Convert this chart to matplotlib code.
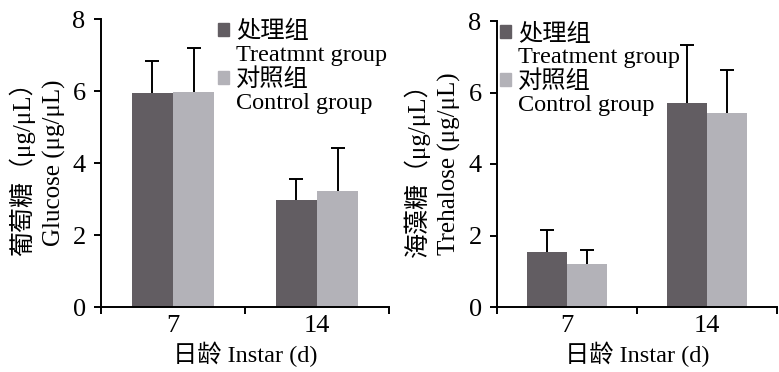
import matplotlib
matplotlib.use("Agg")
import matplotlib.pyplot as plt
import numpy as np
from matplotlib.patches import Patch

plt.rcParams['font.family'] = ['Liberation Serif', 'Noto Sans CJK SC']

# data
ages = ['7', '14']
glucose_trt = [5.95, 2.97]
glucose_trt_err = [0.89, 0.59]
glucose_ctl = [5.97, 3.22]
glucose_ctl_err = [1.23, 1.19]
treha_trt = [1.54, 5.72]
treha_trt_err = [0.61, 1.62]
treha_ctl = [1.21, 5.44]
treha_ctl_err = [0.39, 1.18]

dark = '#625d62'
light = '#b3b2b8'
fs = 19

fig = plt.figure(figsize=(7.79, 3.72), dpi=100)
ax1 = fig.add_axes([101 / 779, 1 - 307 / 372, 288 / 779, 288 / 372])
ax2 = fig.add_axes([497 / 779, 1 - 307 / 372, 280 / 779, 286 / 372])


def upper_err(ax, x, y, err):
    _, caps, _ = ax.errorbar(x, y, yerr=[np.zeros(len(x)), err], fmt='none',
                             ecolor='black', elinewidth=1.4, capsize=5,
                             capthick=1.4, zorder=3)
    caps[0].set_visible(False)


def draw(ax, trt, trt_err, ctl, ctl_err, ylab_cn, ylab_en, lab1, leg_x, lab_x, lab_gap):
    x = np.arange(len(ages))
    w = 0.285
    ax.bar(x - w / 2, trt, w, color=dark, zorder=2)
    ax.bar(x + w / 2, ctl, w, color=light, zorder=2)
    upper_err(ax, x - w / 2, trt, trt_err)
    upper_err(ax, x + w / 2, ctl, ctl_err)
    ax.set_xlim(-0.5, len(ages) - 0.5)
    ax.set_ylim(0, 8)
    ax.set_yticks([0, 2, 4, 6, 8])
    ax.set_xticks([-0.5, 0.5, 1.5])
    ax.set_xticklabels([])
    ax.set_xticks(x, minor=True)
    ax.set_xticklabels(ages, minor=True, fontsize=fs)
    ax.tick_params(axis='x', which='minor', length=0, pad=6)
    ax.tick_params(axis='x', which='major', length=5, width=1.4, direction='out')
    ax.tick_params(axis='y', length=5, width=1.4, labelsize=fs, pad=6)
    for s in ['top', 'right']:
        ax.spines[s].set_visible(False)
    for s in ['left', 'bottom']:
        ax.spines[s].set_linewidth(1.4)
    ax.set_xlabel('日龄 Instar (d)', fontsize=17.5, labelpad=3)
    ax.text(lab_x, 0.5, ylab_cn, transform=ax.transAxes, rotation=90,
            ha='center', va='center', fontsize=18)
    ax.text(lab_x + lab_gap, 0.5, ylab_en, transform=ax.transAxes, rotation=90,
            ha='center', va='center', fontsize=18)
    handles = [Patch(color=dark), Patch(color='none'),
               Patch(color=light), Patch(color='none')]
    labels = ['处理组', lab1, '对照组', 'Control group']
    ax.legend(handles, labels, loc='upper left', bbox_to_anchor=(leg_x, 1.026),
              frameon=False, fontsize=17.5, handlelength=0.45, handleheight=0.45,
              handletextpad=0.3, labelspacing=0.08, borderaxespad=0.0)


draw(ax1, glucose_trt, glucose_trt_err, glucose_ctl, glucose_ctl_err,
     '葡萄糖（μg/μL）', 'Glucose (μg/μL)', 'Treatmnt group', 0.372, -0.274, 0.114)
draw(ax2, treha_trt, treha_trt_err, treha_ctl, treha_ctl_err,
     '海藻糖（μg/μL）', 'Trehalose (μg/μL)', 'Treatment group', -0.025, -0.285, 0.114)

fig.savefig('out.png', dpi=100)
